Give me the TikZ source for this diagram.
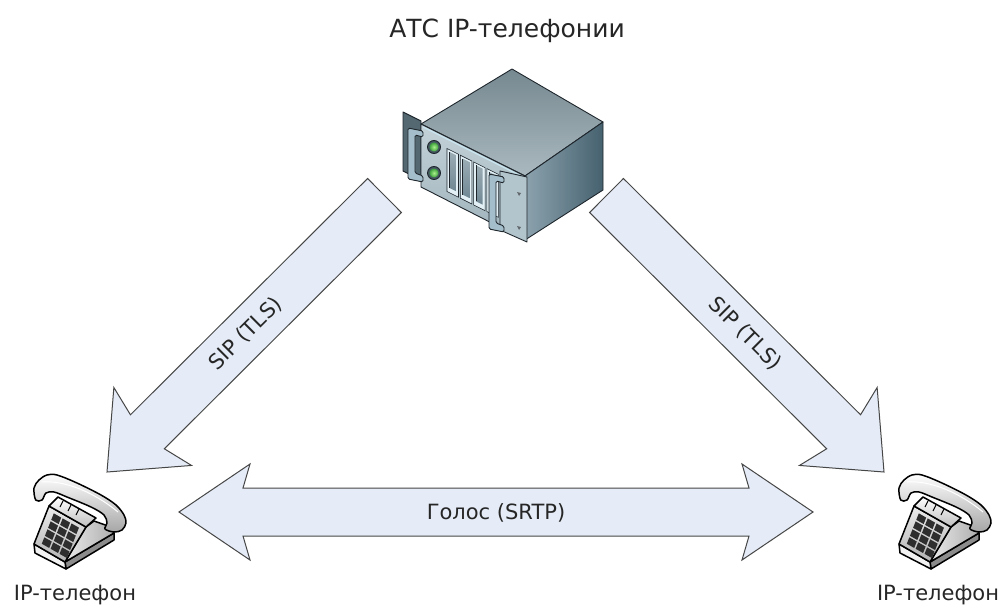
\documentclass[tikz,border=0pt]{standalone}
\usepackage{fontspec}
\setmainfont{DejaVu Sans}
\usetikzlibrary{calc}

\definecolor{arrowfill}{RGB}{229,236,247}
\definecolor{arrowline}{RGB}{70,70,70}
\definecolor{srvline}{RGB}{30,38,44}
\definecolor{srvtopA}{RGB}{118,136,144}
\definecolor{srvtopB}{RGB}{170,185,191}
\definecolor{srvsideA}{RGB}{140,163,174}
\definecolor{srvsideB}{RGB}{70,97,111}
\definecolor{srvfrontA}{RGB}{196,210,216}
\definecolor{srvfrontB}{RGB}{158,178,187}
\definecolor{earDark}{RGB}{84,104,114}
\definecolor{earLight}{RGB}{178,196,204}
\definecolor{handlefill}{RGB}{165,190,203}
\definecolor{slotRim}{RGB}{226,240,246}
\definecolor{slotIn}{RGB}{112,136,148}
\definecolor{ledGreen}{RGB}{60,160,60}
\definecolor{ledHi}{RGB}{170,240,140}
\definecolor{ledRing}{RGB}{70,88,98}
\definecolor{edgeHi}{RGB}{200,228,238}

% Block arrow from tail centre #1 to tip #2:
% #3 shaft half width, #4 barb half width, #5 barb set-back, #6 neck set-back
\newcommand\blockarrow[6]{%
  \path ($(#2)!#6!(#1)$) coordinate (ba-j) ($(#2)!#5!(#1)$) coordinate (ba-q);
  \draw[blockarrow] ($(#1)!#3!90:(#2)$) -- ($(ba-j)!#3!90:(#2)$)
    -- ($(ba-q)!#4!90:(#2)$) -- (#2) -- ($(ba-q)!#4!-90:(#2)$)
    -- ($(ba-j)!#3!-90:(#2)$) -- ($(#1)!#3!-90:(#2)$) -- cycle;
}
% Double-headed block arrow between tips #1 and #2 (same parameters)
\newcommand\doubleblockarrow[6]{%
  \path ($(#1)!#6!(#2)$) coordinate (da-j1) ($(#1)!#5!(#2)$) coordinate (da-q1)
        ($(#2)!#6!(#1)$) coordinate (da-j2) ($(#2)!#5!(#1)$) coordinate (da-q2);
  \draw[blockarrow] (#1) -- ($(da-q1)!#4!90:(#2)$) -- ($(da-j1)!#3!90:(#2)$)
    -- ($(da-j2)!#3!-90:(#1)$) -- ($(da-q2)!#4!-90:(#1)$) -- (#2)
    -- ($(da-q2)!#4!90:(#1)$) -- ($(da-j2)!#3!90:(#1)$)
    -- ($(da-j1)!#3!-90:(#2)$) -- ($(da-q1)!#4!-90:(#2)$) -- cycle;
}

\tikzset{
  blockarrow/.style={fill=arrowfill, draw=arrowline, line width=1pt, line join=miter},
  lbl/.style={font=\fontsize{21}{25}\selectfont, text=black!85, inner sep=0pt},
  ttl/.style={font=\fontsize{25}{30}\selectfont, text=black!85, inner sep=0pt},
  srv/.style={draw=srvline, line width=0.9pt, line join=round},
  ph/.style={draw=black, line width=1.5pt, line join=round},
  phone/.pic={
    % base slab, right side
    \filldraw[ph, fill=black!45] (31,90) -- (80,61) -- (80,68) -- (32,97) -- cycle;
    % body, right face
    \shadedraw[ph, left color=black!8, right color=black!32]
      (31,90) -- (52,55) -- (60,49) -- (77,55) -- (80,61) -- cycle;
    % base slab, front
    \filldraw[ph, fill=black!5] (0,72) -- (31,90) -- (32,97) -- (1,81) -- cycle;
    % keypad face
    \shadedraw[ph, top color=black!8, bottom color=black!30]
      (0,72) -- (15,34) -- (52,55) -- (31,90) -- cycle;
    % keys
    \foreach \i in {0,1,2} \foreach \j in {0,1,2,3} {
      \fill[black!82] ({15+(0.17+0.24*\i)*37-(0.1+0.21*\j)*15},
                       {34+(0.17+0.24*\i)*21+(0.1+0.21*\j)*38})
        -- ++(7.4,4.2) -- ++(-2.55,6.46) -- ++(-7.4,-4.2) -- cycle;
    }
    % cradle
    \shadedraw[ph, top color=white, bottom color=black!25]
      (15,34) -- (24,25) -- (62,46) -- (52,55) -- cycle;
    \draw[black, line width=1pt] (29,29) -- (26,35) (37,33) -- (34,39) (45,37) -- (42,43);
    % handset
    \shadedraw[ph, top color=white, bottom color=black!35]
      plot[smooth cycle, tension=0.55] coordinates {
        (1.7,28) (0,16) (5,8) (13,3) (23,3) (43,11) (67,23) (82,33) (90,43)
        (92,51) (88,58) (80,60) (71,57) (73,51) (70,43) (57,35) (33,25)
        (20,20) (12,21) (8,28)};
    \draw[white, line width=1pt] (8,10) .. controls (30,8) and (60,20) .. (84,40);
  }
}

\begin{document}
\begin{tikzpicture}[x=1pt, y=-1pt]
\useasboundingbox (0,0) rectangle (1003,605);

% ---------- endpoints of the links ----------
\coordinate (sipL-a) at (384.5,195.5);
\coordinate (sipL-b) at (107,472);
\coordinate (sipR-a) at (606.5,195.5);
\coordinate (sipR-b) at (884,472);
\coordinate (rtp-a) at (179,512);
\coordinate (rtp-b) at (813,512);

% ---------- links ----------
\blockarrow{sipL-a}{sipL-b}{24pt}{55pt}{64.5pt}{57pt}
\blockarrow{sipR-a}{sipR-b}{24pt}{55pt}{64.5pt}{57pt}
\doubleblockarrow{rtp-a}{rtp-b}{24pt}{48pt}{71pt}{64pt}

\path (sipL-a) -- (sipL-b) node[midway, sloped, lbl] (sipL-label) {SIP (TLS)};
\path (sipR-a) -- (sipR-b) node[midway, sloped, lbl] (sipR-label) {SIP (TLS)};
\node[lbl, anchor=base] (rtp-label) at (496,519) {Голос (SRTP)};

% ---------- PBX server ----------
\begin{scope}
  % left rack ear
  \filldraw[srv, fill=earDark] (403,112) -- (421,121) -- (421,180) -- (403,171) -- cycle;
  % top face
  \shadedraw[srv, top color=srvtopA, bottom color=srvtopB]
    (512,69) -- (603,122) -- (525,176) -- (421,124) -- cycle;
  % right face
  \shadedraw[srv, left color=srvsideA, right color=srvsideB]
    (525,176) -- (603,122) -- (603,190) -- (525,240) -- cycle;
  % front panel
  \shadedraw[srv, top color=srvfrontA, bottom color=srvfrontB]
    (421,124) -- (525,176) -- (525,240) -- (421,187) -- cycle;
  \draw[edgeHi, line width=1.2pt] (423,127) -- (523,177);
  % status LEDs
  \foreach \ly in {147,173} {
    \filldraw[srv, fill=ledRing] (434,\ly) circle[radius=6.5pt];
    \shade[inner color=ledHi, outer color=ledGreen] (434,\ly) circle[radius=4.5pt];
  }
  % drive bays
  \foreach \k in {0,1,2,3} {
    \filldraw[draw=srvline, line width=0.6pt, fill=slotRim]
      ({447+13.3*\k},{148.5+6.7*\k}) -- ++(11.5,5.75) -- ++(0,43) -- ++(-11.5,-5.75) -- cycle;
    \shade[top color=slotIn!70, bottom color=slotIn]
      ({449.5+13.3*\k},{152+6.7*\k}) -- ++(6.5,3.25) -- ++(0,36) -- ++(-6.5,-3.25) -- cycle;
    \draw[srvline, line width=0.8pt] ({449.5+13.3*\k},{152+6.7*\k}) -- ++(0,36);
  }
  % right rack ear
  \filldraw[srv, fill=earLight] (500,171) -- (527,177) -- (527,242) -- (500,230) -- cycle;
  \fill[srvline!70] (517,192) -- (521,193) -- (519,196) -- cycle;
  \fill[srvline!70] (517,226) -- (521,227) -- (519,230) -- cycle;
  % handles
  \filldraw[srv, fill=handlefill, rounded corners=1.5pt]
    (408,128) -- (423,131) -- (423,137) -- (415,135) -- (415,173) -- (423,176)
    -- (423,182) -- (408,179) -- cycle;
  \filldraw[srv, fill=handlefill, rounded corners=1.5pt]
    (489,174) -- (504,177) -- (504,183) -- (496,181) -- (496,223) -- (504,226)
    -- (504,232) -- (489,229) -- cycle;
\end{scope}
\node[ttl, anchor=base] (pbx-label) at (507,37) {АТС IP-телефонии};

% ---------- telephones ----------
\pic (phoneL) at (34,472) {phone};
\pic (phoneR) at (899,472) {phone};
\node[lbl, anchor=base] (phoneL-label) at (75,600) {IP-телефон};
\node[lbl, anchor=base] (phoneR-label) at (938,600) {IP-телефон};
\end{tikzpicture}
\end{document}
